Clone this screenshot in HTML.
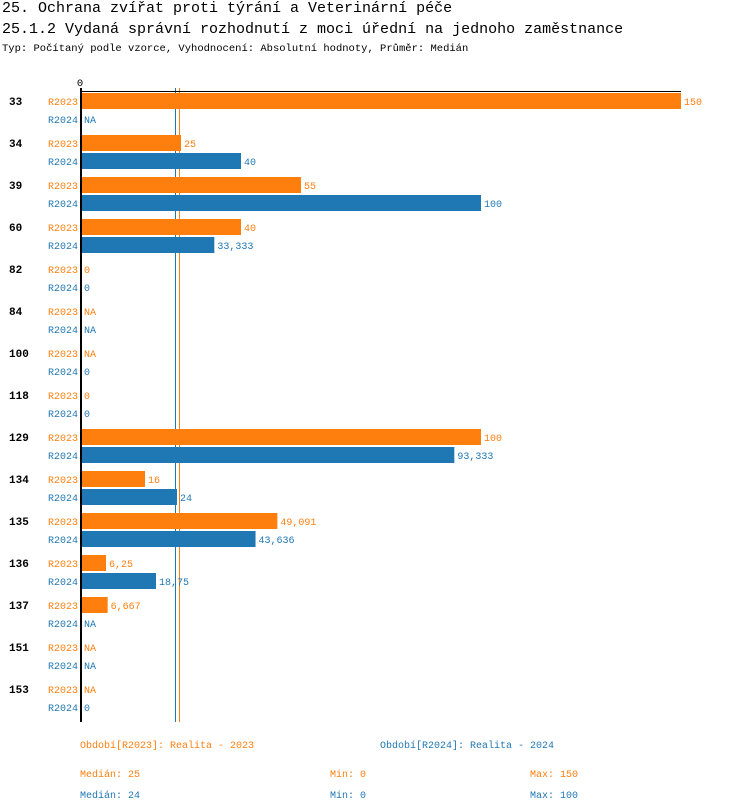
<!DOCTYPE html>
<html><head><meta charset="utf-8"><style>
body{margin:0;background:#fff;width:750px;height:812px;overflow:hidden;font-family:"Liberation Mono","DejaVu Sans Mono",monospace;}
.t{position:absolute;left:2px;font-size:15px;color:#000;white-space:nowrap}
</style></head><body>
<div class="t" style="top:0px">25. Ochrana zvířat proti týrání a Veterinární péče</div>
<div class="t" style="top:21px">25.1.2 Vydaná správní rozhodnutí z moci úřední na jednoho zaměstnance</div>
<div class="t" style="top:43px;font-size:10.5px">Typ: Počítaný podle vzorce, Vyhodnocení: Absolutní hodnoty, Průměr: Medián</div>
<svg id="c" width="750" height="812" style="position:absolute;left:0;top:0" font-family="Liberation Mono, DejaVu Sans Mono, monospace"></svg>
<script>
const categories=["33","34","39","60","82","84","100","118","129","134","135","136","137","151","153"];
const r2023=[150,25,55,40,0,null,null,0,100,16,49.091,6.25,6.667,null,null];
const r2024=[null,40,100,33.333,0,null,0,0,93.333,24,43.636,18.75,null,null,0];
const medians=[25,24];
const mins=[0,0];
const maxs=[150,100];
const seriesNames=["R2023","R2024"];
const colors=["#ff7f0e","#1f77b4"];
const svg=document.getElementById('c');
const NS='http://www.w3.org/2000/svg';
function x(v){return 81+v*4;}
function gy(i){return 101+i*42;}
function mk(t,a){const e=document.createElementNS(NS,t);for(const k in a)e.setAttribute(k,a[k]);svg.appendChild(e);return e;}
function fmt(v){if(v===null)return 'NA';let s=(Math.round(v*1000)/1000).toString();return s.replace('.',',');}
medians.forEach((m,s)=>{
 let ml=mk('line',{x1:x(m)-1.5,y1:88,x2:x(m)-1.5,y2:722,stroke:colors[s],'stroke-width':1});
 
 
});
let l=mk('text',{x:80,y:86,'font-size':10.5,'text-anchor':'middle',fill:'#000'});l.textContent='0';


categories.forEach((c,i)=>{
 const y=gy(i);
 let t=mk('text',{x:9,y:y+4,'font-size':11,'font-weight':'bold',fill:'#000'});t.textContent=c;
 
 
 [r2023,r2024].forEach((arr,s)=>{
  const cy=y+s*18, v=arr[i];
  let lb=mk('text',{x:78,y:cy+4,'font-size':10,'text-anchor':'end',fill:colors[s]});lb.textContent=seriesNames[s];
  
  
  let end=x(0)+3;
  if(v!==null&&v>0){
   let r=mk('rect',{x:82,y:cy-8,width:x(v)-82,height:16,fill:colors[s]});
   
   
   end=x(v)+3;
  }
  let vl=mk('text',{x:end,y:cy+4,'font-size':10,fill:colors[s]});vl.textContent=fmt(v);
  
  
 });
});
let ax=mk('line',{x1:81,y1:88,x2:81,y2:722,stroke:'#000','stroke-width':2});


let tx=mk('line',{x1:80,y1:91.5,x2:681,y2:91.5,stroke:'#000','stroke-width':1});


const legendX=[80,380];
seriesNames.forEach((n,s)=>{
 let t=mk('text',{x:legendX[s],y:748,'font-size':10,fill:colors[s]});t.textContent='Období['+n+']: Realita - '+(s?'2024':'2023');
 
 
 const yy=777+s*21;
 let a=mk('text',{x:80,y:yy,'font-size':10,fill:colors[s]});a.textContent='Medián: '+fmt(medians[s]);
 
 
 let b=mk('text',{x:330,y:yy,'font-size':10,fill:colors[s]});b.textContent='Min: '+fmt(mins[s]);
 
 
 let d=mk('text',{x:530,y:yy,'font-size':10,fill:colors[s]});d.textContent='Max: '+fmt(maxs[s]);
 
 
});
</script>
</body></html>
